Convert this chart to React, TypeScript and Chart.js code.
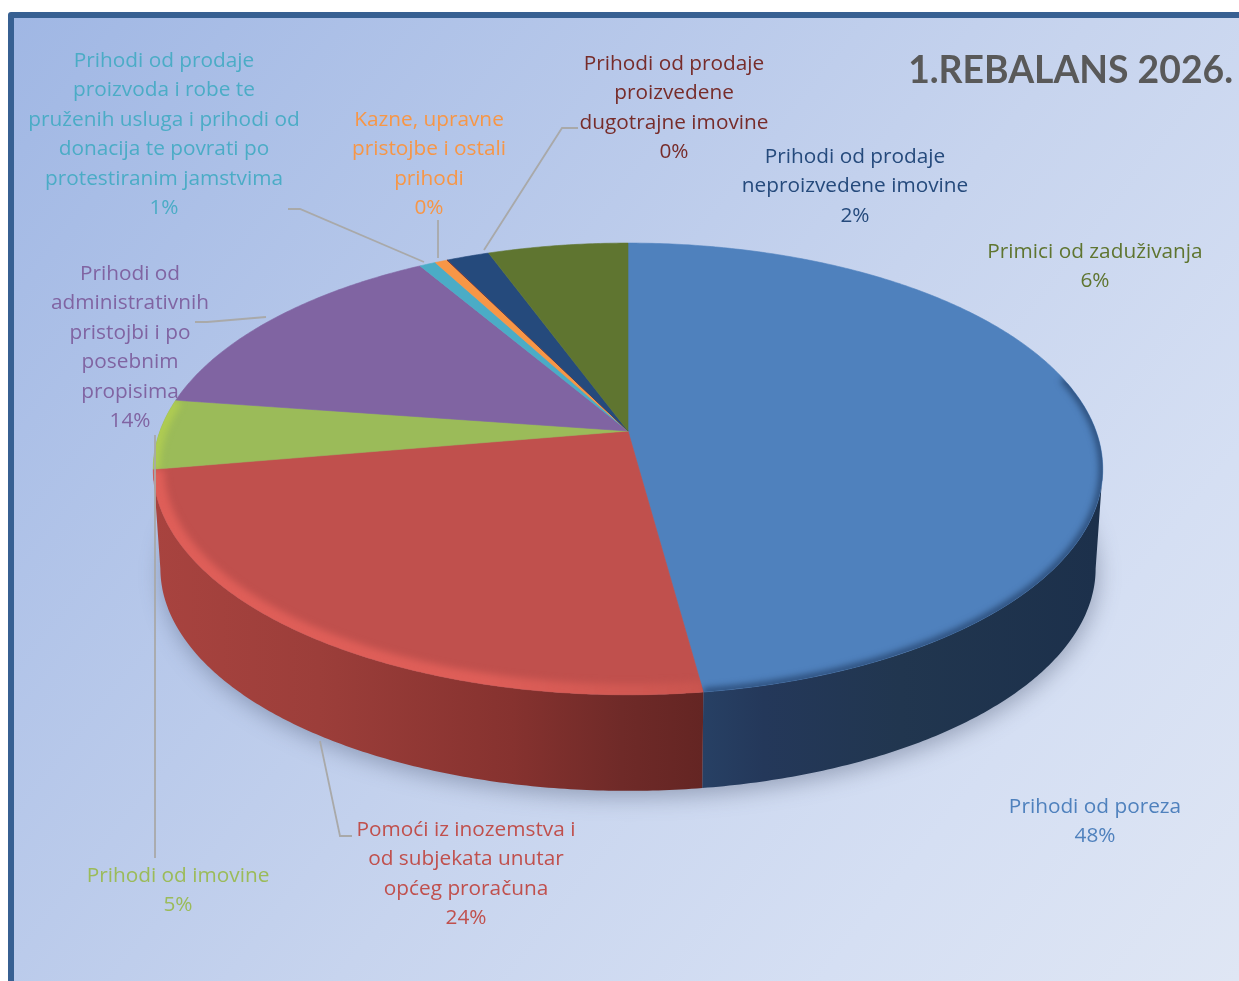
import React, { useEffect, useRef } from "react";
import { Chart, registerables } from "chart.js";

Chart.register(...registerables);

const categories = [
  "Prihodi od poreza",
  "Pomoći iz inozemstva i od subjekata unutar općeg proračuna",
  "Prihodi od imovine",
  "Prihodi od administrativnih pristojbi i po posebnim propisima",
  "Prihodi od prodaje proizvoda i robe te pruženih usluga i prihodi od donacija te povrati po protestiranim jamstvima",
  "Kazne, upravne pristojbe i ostali prihodi",
  "Prihodi od prodaje proizvedene dugotrajne imovine",
  "Prihodi od prodaje neproizvedene imovine",
  "Primici od zaduživanja",
];
const values = [47.8, 24.4, 5.0, 14.2, 0.65, 0.5, 0.03, 1.7, 5.6];
const percentLabels = ["48%", "24%", "5%", "14%", "1%", "0%", "0%", "2%", "6%"];
const sliceColors = ["#4f81bd", "#c0504d", "#9bbb59", "#8064a2", "#4bacc6", "#f79646", "#772c2a", "#254a7c", "#5f7530"];
const textColors = ["#4f81bd", "#c0504d", "#9bbb59", "#8064a2", "#4bacc6", "#f79646", "#772c2a", "#254a7c", "#5f7530"];
const labelLines = [
  ["Prihodi od poreza"],
  ["Pomoći iz inozemstva i", "od subjekata unutar", "općeg proračuna"],
  ["Prihodi od imovine"],
  ["Prihodi od", "administrativnih", "pristojbi i po", "posebnim", "propisima"],
  ["Prihodi od prodaje", "proizvoda i robe te", "pruženih usluga i prihodi od", "donacija te povrati po", "protestiranim jamstvima"],
  ["Kazne, upravne", "pristojbe i ostali", "prihodi"],
  ["Prihodi od prodaje", "proizvedene", "dugotrajne imovine"],
  ["Prihodi od prodaje", "neproizvedene imovine"],
  ["Primici od zaduživanja"],
];
const titleText = "1.REBALANS 2026.";

// layout: centre x and middle of first line for each label
const labelX = [1095, 466, 178, 130, 164, 429, 674, 855, 1095];
const labelY = [807, 830, 876, 274, 61, 120, 64, 157, 252];
const LINE_H = 29.4;

// leader lines (annotation layout)
const leaders: number[][][] = [
  [[288, 209], [300, 209], [424, 262]],
  [[438, 220], [438, 258]],
  [[578, 128], [562, 128], [484, 250]],
  [[195, 322], [207, 322], [266, 317]],
  [[155, 435], [155, 858]],
  [[320, 741], [340, 836], [352, 836]],
];

// perspective projection of the disc
const CX = 628, AX = 468, PV = -0.168, AV = 147.1, BV = 431;
const BOT_S = 0.985, BOT_D = 100;
const TH_R = Math.acos(PV), TH_L = 2 * Math.PI - TH_R;

function top(th: number): [number, number] {
  const u = Math.sin(th), v = -Math.cos(th), w = 1 + PV * v;
  return [CX + (AX * u) / w, (AV * v + BV) / w];
}
function bot(th: number): [number, number] {
  const [x, y] = top(th);
  return [CX + (x - CX) * BOT_S, BV + BOT_D + (y - BV) * BOT_S];
}
function arcPts(f: (t: number) => [number, number], a: number, b: number) {
  const n = Math.max(2, Math.ceil(Math.abs(b - a) / 0.01));
  const r: [number, number][] = [];
  for (let i = 0; i <= n; i++) r.push(f(a + ((b - a) * i) / n));
  return r;
}
function slicePath(ctx: CanvasRenderingContext2D, a: number, b: number) {
  ctx.beginPath();
  ctx.moveTo(CX, BV);
  arcPts(top, a, b).forEach(([x, y]) => ctx.lineTo(x, y));
  ctx.closePath();
}

const wallStops: Record<number, [number, string][]> = {
  0: [[0, "#274064"], [0.15, "#24385a"], [0.5, "#21364f"], [1, "#1c304b"]],
  1: [[0, "#a8433f"], [0.3, "#9c3e3a"], [0.65, "#86322f"], [0.85, "#6f2a28"], [1, "#642523"]],
};
const wallX: Record<number, [number, number]> = { 0: [704, 1100], 1: [155, 704] };

const backdrop = {
  id: "backdrop",
  beforeDraw(chart: Chart) {
    const ctx = chart.ctx;
    const W = chart.width, H = chart.height;
    ctx.save();
    ctx.fillStyle = "#ffffff";
    ctx.fillRect(0, 0, W, H);
    ctx.beginPath();
    ctx.roundRect(8, 12, W + 20, H + 20, 3);
    ctx.fillStyle = "#376092";
    ctx.fill();
    const g = ctx.createLinearGradient(14, 18, W, H);
    g.addColorStop(0, "#a0b7e4");
    g.addColorStop(0.545, "#c7d4ee");
    g.addColorStop(0.79, "#d5dff3");
    g.addColorStop(1, "#dfe6f4");
    ctx.fillStyle = g;
    ctx.fillRect(14, 18, W, H);
    ctx.restore();
  },
};

const pie3d = {
  id: "pie3d",
  beforeDatasetDraw(chart: Chart) {
    const ctx = chart.ctx;
    const arcs = chart.getDatasetMeta(0).data as any[];
    const range = arcs.map((el) => [el.startAngle + Math.PI / 2, el.endAngle + Math.PI / 2]);
    ctx.save();

    // soft cast shadow
    ctx.save();
    ctx.filter = "blur(11px)";
    ctx.fillStyle = "rgba(50,60,90,0.36)";
    ctx.beginPath();
    arcPts(bot, 0, 2 * Math.PI).forEach(([x, y]) => ctx.lineTo(x + 2, y + 6));
    ctx.closePath();
    ctx.fill();
    ctx.restore();

    // side wall
    range.forEach(([a, b], i) => {
      const s = Math.max(a, TH_R), e = Math.min(b, TH_L);
      if (e <= s) return;
      ctx.beginPath();
      arcPts(top, s, e).forEach(([x, y]) => ctx.lineTo(x, y));
      arcPts(bot, e, s).forEach(([x, y]) => ctx.lineTo(x, y));
      ctx.closePath();
      const stops = wallStops[i];
      if (stops) {
        const [x0, x1] = wallX[i];
        const g = ctx.createLinearGradient(x0, 0, x1, 0);
        stops.forEach(([o, c]) => g.addColorStop(o, c));
        ctx.fillStyle = g;
      } else {
        ctx.fillStyle = sliceColors[i];
      }
      ctx.fill();
    });

    // top surface
    range.forEach(([a, b], i) => {
      slicePath(ctx, a, b);
      ctx.fillStyle = sliceColors[i];
      ctx.strokeStyle = sliceColors[i];
      ctx.lineWidth = 0.6;
      ctx.fill();
      ctx.stroke();
    });

    // bevel along the rim
    const rims: [number, number, number, string | CanvasGradient, number, number][] = [];
    const redG = ctx.createLinearGradient(155, 0, 704, 0);
    redG.addColorStop(0, "#de5e58");
    redG.addColorStop(0.6, "#de5e58");
    redG.addColorStop(1, "#c9554f");
    rims.push([1, range[1][0], range[1][1], redG, 22, 3.5]);
    rims.push([2, range[2][0], range[2][1], "#aecb52", 14, 3]);
    rims.push([0, Math.PI * 0.42, range[0][1], "#2d4f7c", 8, 3]);
    rims.forEach(([i, a, b, col, lw, blur]) => {
      ctx.save();
      slicePath(ctx, range[i][0], range[i][1]);
      ctx.clip();
      ctx.filter = `blur(${blur}px)`;
      ctx.beginPath();
      arcPts(top, a, b).forEach(([x, y]) => ctx.lineTo(x, y));
      ctx.strokeStyle = col as any;
      ctx.lineWidth = lw;
      ctx.stroke();
      ctx.restore();
    });
    ctx.restore();
    return false;
  },
};

const annotations = {
  id: "annotations",
  afterDraw(chart: Chart) {
    const ctx = chart.ctx;
    ctx.save();
    ctx.strokeStyle = "#a9a9a9";
    ctx.lineWidth = 1.8;
    leaders.forEach((pts) => {
      ctx.beginPath();
      pts.forEach(([x, y], k) => (k ? ctx.lineTo(x, y) : ctx.moveTo(x, y)));
      ctx.stroke();
    });
    ctx.textAlign = "center";
    ctx.textBaseline = "middle";
    ctx.font = `20.8px "Open Sans", sans-serif`;
    labelLines.forEach((lines, i) => {
      ctx.fillStyle = textColors[i];
      [...lines, percentLabels[i]].forEach((t, k) => {
        ctx.fillText(t, labelX[i], labelY[i] + k * LINE_H);
      });
    });
    ctx.font = `bold 37.3px Lato, sans-serif`;
    ctx.textAlign = "right";
    ctx.fillStyle = "#595959";
    ctx.fillText(titleText, 1233, 71);
    ctx.restore();
  },
};

export default function App() {
  const ref = useRef<HTMLCanvasElement>(null);
  useEffect(() => {
    document.body.style.margin = "0";
    document.body.style.background = "#ffffff";
    const chart = new Chart(ref.current!, {
      type: "pie",
      data: {
        labels: categories,
        datasets: [{ data: values, backgroundColor: sliceColors, borderWidth: 0 }],
      },
      options: {
        responsive: false,
        animation: false,
        events: [],
        plugins: { legend: { display: false }, tooltip: { enabled: false } },
      },
      plugins: [backdrop, pie3d, annotations],
    } as any);
    return () => chart.destroy();
  }, []);
  return <canvas ref={ref} width={1239} height={981} style={{ display: "block" }} />;
}
